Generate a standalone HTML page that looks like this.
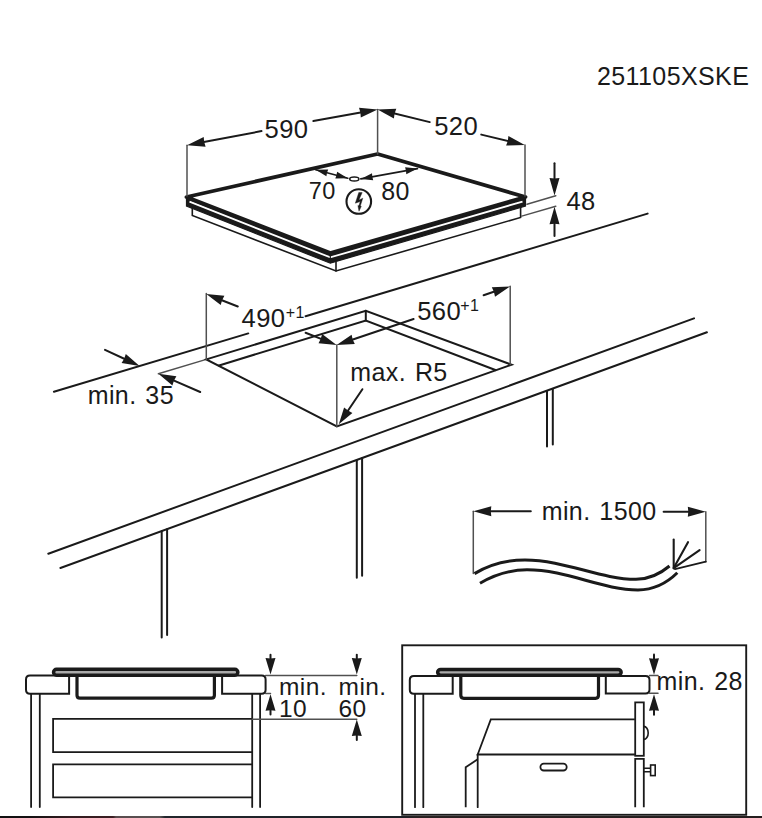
<!DOCTYPE html>
<html><head><meta charset="utf-8"><style>
html,body{margin:0;padding:0;background:#fff;}
body{width:762px;height:818px;overflow:hidden;position:relative;}
svg{position:absolute;left:0;top:0;}
text{font-family:"Liberation Sans",sans-serif;fill:#1a1a1a;letter-spacing:0.4px;word-spacing:1.5px;}
.strip{position:absolute;left:0;top:815.6px;width:762px;height:2.4px;background:linear-gradient(90deg,#111 0,#141112 30px,#331c20 70px,#3a1e22 113px,#5a4c4e 116px,#575252 160px,#22262c 165px,#1c2026 400px,#2a2222 420px,#241e1e 762px);}
</style></head><body>
<svg width="762" height="818" viewBox="0 0 762 818">
<text x="597" y="84.6" font-size="25" text-anchor="start">251105XSKE</text>
<polygon points="186.5,197 330.3,253 525.5,197 525.5,206 330.3,263.2 186.5,206" fill="#1a1a1a" stroke="#1a1a1a" stroke-width="1.2" stroke-linejoin="miter"/>
<polyline points="189.5,201.6 330.3,257.4 522.5,201.6" fill="none" stroke="#fff" stroke-width="1.8" stroke-linejoin="miter" stroke-linecap="butt"/>
<polyline points="192.3,208.0 192.3,215.4 336.0,271.0 520.6,217.4 520.6,206.5" fill="none" stroke="#1a1a1a" stroke-width="1.6" stroke-linejoin="miter" stroke-linecap="butt"/>
<line x1="336.0" y1="262.5" x2="336.0" y2="271.0" stroke="#1a1a1a" stroke-width="1.6" stroke-linecap="round"/>
<line x1="330.3" y1="253.0" x2="330.3" y2="262.0" stroke="#1a1a1a" stroke-width="1.2" stroke-linecap="round"/>
<polygon points="186.5,197.0 377.6,154.0 525.5,197.0 330.3,253.0" fill="#fff" stroke="#1a1a1a" stroke-width="3.8" stroke-linejoin="round" stroke-linecap="butt"/>
<line x1="187.0" y1="145.3" x2="187.0" y2="196.0" stroke="#505050" stroke-width="1.5" stroke-linecap="round"/>
<line x1="377.6" y1="109.4" x2="377.6" y2="154.0" stroke="#505050" stroke-width="1.5" stroke-linecap="round"/>
<line x1="525.0" y1="144.9" x2="525.0" y2="196.0" stroke="#505050" stroke-width="1.5" stroke-linecap="round"/>
<line x1="261.5" y1="131.1" x2="201.1" y2="142.6" stroke="#1a1a1a" stroke-width="2.0" stroke-linecap="round"/>
<polygon points="187.0,145.3 203.7,137.0 204.2,142.0 205.6,146.8" fill="#1a1a1a"/>
<line x1="313.3" y1="121.1" x2="363.4" y2="112.0" stroke="#1a1a1a" stroke-width="2.0" stroke-linecap="round"/>
<polygon points="377.6,109.4 360.8,117.5 360.4,112.5 359.0,107.7" fill="#1a1a1a"/>
<text x="264.5" y="138.4" font-size="25.6" text-anchor="start">590</text>
<line x1="429.8" y1="122.1" x2="391.6" y2="112.8" stroke="#1a1a1a" stroke-width="2.0" stroke-linecap="round"/>
<polygon points="377.6,109.4 396.3,108.8 394.6,113.5 393.9,118.5" fill="#1a1a1a"/>
<line x1="481.3" y1="134.6" x2="510.8" y2="141.6" stroke="#1a1a1a" stroke-width="2.0" stroke-linecap="round"/>
<polygon points="524.8,144.9 506.1,145.6 507.8,140.9 508.4,135.9" fill="#1a1a1a"/>
<text x="434.2" y="135.4" font-size="25.6" text-anchor="start">520</text>
<ellipse cx="354.3" cy="178.9" rx="4.6" ry="2" fill="none" stroke="#1a1a1a" stroke-width="1.5"/>
<line x1="315.7" y1="169.8" x2="347.8" y2="178.2" stroke="#1a1a1a" stroke-width="1.6" stroke-linecap="round"/>
<polygon points="315.7,169.8 328.2,169.5 327.0,172.7 326.4,176.2" fill="#1a1a1a"/>
<polygon points="347.8,178.2 335.3,178.5 336.5,175.3 337.1,171.8" fill="#1a1a1a"/>
<line x1="360.8" y1="178.9" x2="417.5" y2="168.6" stroke="#1a1a1a" stroke-width="1.6" stroke-linecap="round"/>
<polygon points="360.8,178.9 372.0,173.3 372.3,176.8 373.2,180.2" fill="#1a1a1a"/>
<polygon points="417.5,168.6 406.3,174.2 406.0,170.7 405.1,167.3" fill="#1a1a1a"/>
<text x="308.8" y="198.8" font-size="23.5" text-anchor="start">70</text>
<text x="381.3" y="200.3" font-size="25" text-anchor="start">80</text>
<circle cx="358.8" cy="201.5" r="12.3" fill="none" stroke="#1a1a1a" stroke-width="2.1"/>
<polygon points="358.8,192.4 362.2,192.6 358.9,199.9 362.8,198.2 360.3,206.0 361.3,206.3 359.0,211.2 357.9,205.6 358.9,205.8 360.2,201.6 355.3,203.2" fill="#1a1a1a" stroke="#1a1a1a" stroke-width="0.4" stroke-linejoin="round"/>
<line x1="554.5" y1="163.3" x2="554.5" y2="181.6" stroke="#1a1a1a" stroke-width="2.0" stroke-linecap="round"/>
<polygon points="554.5,195.6 549.5,178.1 554.5,178.6 559.5,178.1" fill="#1a1a1a"/>
<line x1="554.5" y1="236.0" x2="554.5" y2="220.8" stroke="#1a1a1a" stroke-width="2.0" stroke-linecap="round"/>
<polygon points="554.5,206.8 559.5,224.3 554.5,223.8 549.5,224.3" fill="#1a1a1a"/>
<line x1="527.0" y1="204.3" x2="555.8" y2="195.7" stroke="#505050" stroke-width="1.5" stroke-linecap="round"/>
<line x1="521.7" y1="216.1" x2="555.8" y2="206.2" stroke="#505050" stroke-width="1.5" stroke-linecap="round"/>
<text x="566.5" y="209.9" font-size="25.5" text-anchor="start">48</text>
<line x1="53.9" y1="391.8" x2="248.3" y2="333.4" stroke="#1a1a1a" stroke-width="2.0" stroke-linecap="round"/>
<line x1="305.6" y1="316.2" x2="647.6" y2="213.6" stroke="#1a1a1a" stroke-width="2.0" stroke-linecap="round"/>
<line x1="105.0" y1="349.8" x2="126.9" y2="360.0" stroke="#1a1a1a" stroke-width="2.0" stroke-linecap="round"/>
<polygon points="139.6,365.9 121.6,363.1 124.2,358.7 125.8,354.0" fill="#1a1a1a"/>
<line x1="200.2" y1="392.0" x2="171.2" y2="379.4" stroke="#1a1a1a" stroke-width="2.0" stroke-linecap="round"/>
<polygon points="158.4,373.8 176.4,376.2 174.0,380.6 172.4,385.4" fill="#1a1a1a"/>
<line x1="158.4" y1="373.8" x2="206.3" y2="359.4" stroke="#505050" stroke-width="1.5" stroke-linecap="round"/>
<text x="87.7" y="404.2" font-size="25" text-anchor="start">min. 35</text>
<polygon points="206.3,359.4 365.8,310.8 511.5,364.7 336.8,426.5" fill="none" stroke="#1a1a1a" stroke-width="2.0" stroke-linejoin="miter" stroke-linecap="butt"/>
<line x1="365.8" y1="310.8" x2="365.8" y2="320.5" stroke="#1a1a1a" stroke-width="2.0" stroke-linecap="round"/>
<polyline points="218.3,365.7 365.8,320.5 496.0,370.2" fill="none" stroke="#1a1a1a" stroke-width="2.0" stroke-linejoin="miter" stroke-linecap="butt"/>
<line x1="206.3" y1="293.6" x2="206.3" y2="359.4" stroke="#505050" stroke-width="1.5" stroke-linecap="round"/>
<line x1="237.8" y1="306.5" x2="219.3" y2="299.2" stroke="#1a1a1a" stroke-width="2.0" stroke-linecap="round"/>
<polygon points="206.3,294.0 224.4,295.8 222.1,300.3 220.7,305.1" fill="#1a1a1a"/>
<line x1="305.6" y1="332.8" x2="323.6" y2="339.9" stroke="#1a1a1a" stroke-width="2.0" stroke-linecap="round"/>
<polygon points="336.6,345.0 318.5,343.2 320.8,338.8 322.1,333.9" fill="#1a1a1a"/>
<text x="241.6" y="326.9" font-size="25.6" text-anchor="start">490</text>
<text x="285.8" y="318.4" font-size="16" text-anchor="start">+1</text>
<line x1="336.8" y1="345.0" x2="336.8" y2="426.5" stroke="#505050" stroke-width="1.5" stroke-linecap="round"/>
<line x1="510.2" y1="286.2" x2="510.2" y2="364.7" stroke="#505050" stroke-width="1.5" stroke-linecap="round"/>
<line x1="413.6" y1="319.0" x2="349.9" y2="340.5" stroke="#1a1a1a" stroke-width="2.0" stroke-linecap="round"/>
<polygon points="336.6,345.0 351.6,334.7 352.7,339.6 354.8,344.1" fill="#1a1a1a"/>
<line x1="483.6" y1="295.2" x2="496.7" y2="290.8" stroke="#1a1a1a" stroke-width="2.0" stroke-linecap="round"/>
<polygon points="510.0,286.4 495.0,296.7 493.9,291.8 491.8,287.2" fill="#1a1a1a"/>
<text x="417.2" y="319.6" font-size="25.6" text-anchor="start">560</text>
<text x="460.2" y="310.8" font-size="16" text-anchor="start">+1</text>
<line x1="362.4" y1="389.2" x2="346.4" y2="413.0" stroke="#1a1a1a" stroke-width="2.0" stroke-linecap="round"/>
<polygon points="338.8,424.3 344.1,407.4 348.0,410.6 352.4,413.0" fill="#1a1a1a"/>
<text x="350.3" y="380.7" font-size="25" text-anchor="start">max. R5</text>
<line x1="48.3" y1="553.7" x2="694.0" y2="318.4" stroke="#1a1a1a" stroke-width="2.0" stroke-linecap="round"/>
<line x1="60.4" y1="568.0" x2="706.9" y2="332.3" stroke="#1a1a1a" stroke-width="2.0" stroke-linecap="round"/>
<line x1="161.7" y1="531.2" x2="161.7" y2="637.6" stroke="#1a1a1a" stroke-width="2.0" stroke-linecap="round"/>
<line x1="167.1" y1="529.2" x2="167.1" y2="634.9" stroke="#1a1a1a" stroke-width="2.0" stroke-linecap="round"/>
<line x1="356.8" y1="460.2" x2="356.8" y2="577.7" stroke="#1a1a1a" stroke-width="2.0" stroke-linecap="round"/>
<line x1="362.1" y1="458.2" x2="362.1" y2="575.8" stroke="#1a1a1a" stroke-width="2.0" stroke-linecap="round"/>
<line x1="547.0" y1="391.0" x2="547.0" y2="446.5" stroke="#1a1a1a" stroke-width="2.0" stroke-linecap="round"/>
<line x1="552.8" y1="388.9" x2="552.8" y2="444.4" stroke="#1a1a1a" stroke-width="2.0" stroke-linecap="round"/>
<line x1="473.3" y1="511.3" x2="473.3" y2="573.6" stroke="#505050" stroke-width="1.5" stroke-linecap="round"/>
<line x1="530.8" y1="511.3" x2="487.7" y2="511.3" stroke="#1a1a1a" stroke-width="2.0" stroke-linecap="round"/>
<polygon points="473.3,511.3 491.3,506.3 490.8,511.3 491.3,516.3" fill="#1a1a1a"/>
<line x1="663.6" y1="511.7" x2="691.4" y2="511.7" stroke="#1a1a1a" stroke-width="2.0" stroke-linecap="round"/>
<polygon points="705.8,511.7 687.8,516.7 688.3,511.7 687.8,506.7" fill="#1a1a1a"/>
<line x1="705.8" y1="511.7" x2="705.8" y2="561.7" stroke="#505050" stroke-width="1.5" stroke-linecap="round"/>
<line x1="705.8" y1="561.7" x2="675.0" y2="569.2" stroke="#1a1a1a" stroke-width="1.8" stroke-linecap="round"/>
<text x="541.7" y="520.4" font-size="25" text-anchor="start">min. 1500</text>
<path d="M474.5,573.6 C490,564.3 505,560 525,560 C565,560 600,579.3 636,579.3 C650,579.3 660,574 669.5,566" fill="none" stroke="#1a1a1a" stroke-width="3"/>
<path d="M480,583.2 C495,574.5 510,569.8 527,569.8 C567,569.8 602,589.9 638,589.9 C655,589.9 668,582 677.3,572.8" fill="none" stroke="#1a1a1a" stroke-width="3"/>
<line x1="673.7" y1="568.1" x2="673.7" y2="539.6" stroke="#1a1a1a" stroke-width="2.1" stroke-linecap="round"/>
<line x1="673.7" y1="568.1" x2="688.0" y2="542.2" stroke="#1a1a1a" stroke-width="2.1" stroke-linecap="round"/>
<line x1="673.7" y1="568.1" x2="699.6" y2="550.2" stroke="#1a1a1a" stroke-width="2.1" stroke-linecap="round"/>
<line x1="31.1" y1="693.5" x2="31.1" y2="807.0" stroke="#1a1a1a" stroke-width="1.8" stroke-linecap="round"/>
<line x1="39.8" y1="693.5" x2="39.8" y2="807.0" stroke="#1a1a1a" stroke-width="1.8" stroke-linecap="round"/>
<line x1="252.2" y1="693.5" x2="252.2" y2="807.0" stroke="#1a1a1a" stroke-width="1.8" stroke-linecap="round"/>
<line x1="260.1" y1="693.5" x2="260.1" y2="807.0" stroke="#1a1a1a" stroke-width="1.8" stroke-linecap="round"/>
<path d="M69.1,675.5 L30,675.5 Q26,675.5 26,679.5 L26,689.8 Q26,693.8 30,693.8 L69.1,693.8 Z" fill="#fff" stroke="#1a1a1a" stroke-width="2.0"/>
<path d="M222.1,675.6 L261.6,675.6 Q265.6,675.6 265.6,679.6 L265.6,689.8 Q265.6,693.8 261.6,693.8 L222.1,693.8 Z" fill="#fff" stroke="#1a1a1a" stroke-width="2.0"/>
<path d="M77.0,676 L77.0,695.1999999999999 Q77.0,698.1999999999999 80.0,698.1999999999999 L211.4,698.1999999999999 Q214.4,698.1999999999999 214.4,695.1999999999999 L214.4,676" fill="none" stroke="#1a1a1a" stroke-width="3.2"/>
<rect x="53.55" y="669.25" width="184.3" height="6.0" rx="3" fill="#aaa" stroke="#1a1a1a" stroke-width="3.5"/>
<polyline points="252.2,718.9 53.1,718.9 53.1,752.2 252.2,752.2" fill="none" stroke="#1a1a1a" stroke-width="1.8" stroke-linejoin="miter" stroke-linecap="butt"/>
<polyline points="252.2,764.3 53.1,764.3 53.1,797.4 252.2,797.4" fill="none" stroke="#1a1a1a" stroke-width="1.8" stroke-linejoin="miter" stroke-linecap="butt"/>
<line x1="265.6" y1="675.4" x2="356.8" y2="675.4" stroke="#505050" stroke-width="1.5" stroke-linecap="round"/>
<line x1="252.2" y1="719.2" x2="356.8" y2="719.2" stroke="#505050" stroke-width="1.5" stroke-linecap="round"/>
<line x1="265.6" y1="693.4" x2="270.5" y2="693.4" stroke="#505050" stroke-width="1.5" stroke-linecap="round"/>
<line x1="270.5" y1="654.7" x2="270.5" y2="661.3" stroke="#1a1a1a" stroke-width="2.0" stroke-linecap="round"/>
<polygon points="270.5,674.5 265.5,658.0 270.5,658.5 275.5,658.0" fill="#1a1a1a"/>
<line x1="270.5" y1="714.4" x2="270.5" y2="707.4" stroke="#1a1a1a" stroke-width="2.0" stroke-linecap="round"/>
<polygon points="270.5,694.2 275.5,710.7 270.5,710.2 265.5,710.7" fill="#1a1a1a"/>
<line x1="356.8" y1="654.7" x2="356.8" y2="661.3" stroke="#1a1a1a" stroke-width="2.0" stroke-linecap="round"/>
<polygon points="356.8,674.5 351.8,658.0 356.8,658.5 361.8,658.0" fill="#1a1a1a"/>
<line x1="356.8" y1="740.0" x2="356.8" y2="732.8" stroke="#1a1a1a" stroke-width="2.0" stroke-linecap="round"/>
<polygon points="356.8,719.6 361.8,736.1 356.8,735.6 351.8,736.1" fill="#1a1a1a"/>
<text x="279" y="695.3" font-size="24.5" text-anchor="start">min.</text>
<text x="279" y="716.8" font-size="24.5" text-anchor="start">10</text>
<text x="338.6" y="695.3" font-size="24.5" text-anchor="start">min.</text>
<text x="338.6" y="716.8" font-size="24.5" text-anchor="start">60</text>
<rect x="402.2" y="645.3" width="344" height="169.5" fill="none" stroke="#1a1a1a" stroke-width="1.9"/>
<line x1="415.0" y1="693.3" x2="415.0" y2="807.2" stroke="#1a1a1a" stroke-width="1.8" stroke-linecap="round"/>
<line x1="423.3" y1="693.3" x2="423.3" y2="807.2" stroke="#1a1a1a" stroke-width="1.8" stroke-linecap="round"/>
<path d="M452.7,675.9 L413.8,675.9 Q409.8,675.9 409.8,679.9 L409.8,689.8 Q409.8,693.8 413.8,693.8 L452.7,693.8 Z" fill="#fff" stroke="#1a1a1a" stroke-width="2.0"/>
<path d="M605.8,676.0 L645.5,676.0 Q649.5,676.0 649.5,680.0 L649.5,689.6 Q649.5,693.6 645.5,693.6 L605.8,693.6 Z" fill="#fff" stroke="#1a1a1a" stroke-width="2.0"/>
<path d="M460.8,676.3 L460.8,695.3 Q460.8,698.3 463.8,698.3 L595.5,698.3 Q598.5,698.3 598.5,695.3 L598.5,676.3" fill="none" stroke="#1a1a1a" stroke-width="3.2"/>
<rect x="437.65" y="669.55" width="183.5" height="5.600000000000023" rx="3" fill="#aaa" stroke="#1a1a1a" stroke-width="3.5"/>
<polyline points="634.9,719.4 490.8,719.4 477.7,754.5 634.9,754.5" fill="none" stroke="#1a1a1a" stroke-width="1.8" stroke-linejoin="miter" stroke-linecap="butt"/>
<line x1="477.7" y1="754.3" x2="477.7" y2="807.2" stroke="#1a1a1a" stroke-width="1.8" stroke-linecap="round"/>
<polyline points="477.7,759.3 465.7,767.3 465.7,807.2" fill="none" stroke="#1a1a1a" stroke-width="1.8" stroke-linejoin="miter" stroke-linecap="butt"/>
<rect x="540.4" y="763.7" width="26.3" height="6.8" rx="3.4" fill="none" stroke="#1a1a1a" stroke-width="1.8"/>
<rect x="635.2" y="702.4" width="8.6" height="53.4" fill="#fff" stroke="#1a1a1a" stroke-width="1.8"/>
<path d="M643.8,726.4 A4.4,6.5 0 0 1 643.8,739.4" fill="none" stroke="#1a1a1a" stroke-width="1.6"/>
<polyline points="635.2,807.2 635.2,758.9 643.8,758.9 643.8,807.2" fill="none" stroke="#1a1a1a" stroke-width="1.8" stroke-linejoin="miter" stroke-linecap="butt"/>
<line x1="643.8" y1="768.2" x2="650.6" y2="768.2" stroke="#1a1a1a" stroke-width="1.4" stroke-linecap="round"/>
<line x1="643.8" y1="771.8" x2="650.6" y2="771.8" stroke="#1a1a1a" stroke-width="1.4" stroke-linecap="round"/>
<rect x="650.6" y="765" width="4.6" height="10.6" fill="#fff" stroke="#1a1a1a" stroke-width="1.6"/>
<line x1="649.5" y1="675.5" x2="658.0" y2="675.5" stroke="#505050" stroke-width="1.5" stroke-linecap="round"/>
<line x1="649.5" y1="693.2" x2="658.0" y2="693.2" stroke="#505050" stroke-width="1.5" stroke-linecap="round"/>
<line x1="654.0" y1="654.5" x2="654.0" y2="661.5" stroke="#1a1a1a" stroke-width="2.0" stroke-linecap="round"/>
<polygon points="654.0,674.7 649.0,658.2 654.0,658.7 659.0,658.2" fill="#1a1a1a"/>
<line x1="654.0" y1="714.7" x2="654.0" y2="707.5" stroke="#1a1a1a" stroke-width="2.0" stroke-linecap="round"/>
<polygon points="654.0,694.3 659.0,710.8 654.0,710.3 649.0,710.8" fill="#1a1a1a"/>
<text x="656.6" y="690.1" font-size="25" text-anchor="start">min. 28</text>
</svg>
<div class="strip"></div>
</body></html>
